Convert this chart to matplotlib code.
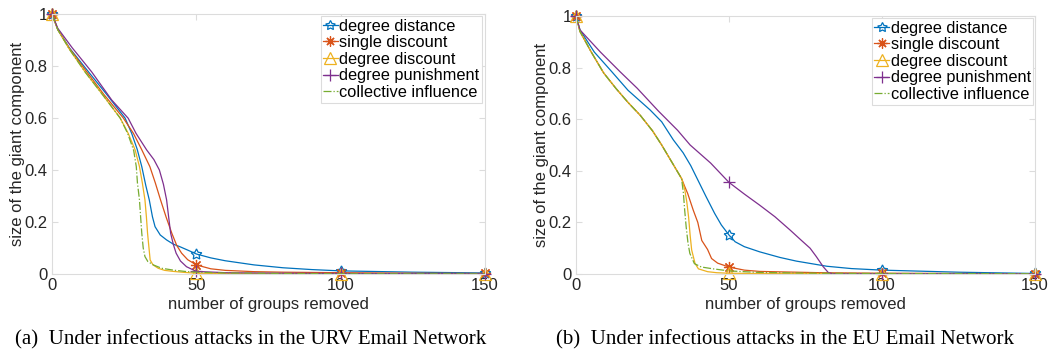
import matplotlib
matplotlib.use("Agg")
import matplotlib.pyplot as plt

plt.rcParams['font.family'] = ['Liberation Sans', 'DejaVu Sans']

# ---- URV Email Network ----
urv_dd_x = [0, 2, 6, 12.6, 19, 25.3, 27.6, 29.5, 31.1, 32.5, 33.7, 34.8, 35.7, 37.5, 39.7, 42, 44.3, 47, 50, 55, 60, 70, 80, 90, 100, 125, 150]
urv_dd_y = [1, 0.94, 0.87, 0.778, 0.69, 0.6, 0.541, 0.48, 0.413, 0.34, 0.285, 0.22, 0.182, 0.15, 0.131, 0.115, 0.105, 0.092, 0.077, 0.062, 0.051, 0.035, 0.024, 0.017, 0.012, 0.007, 0.004]

urv_sd_x = [0, 2, 6, 12, 18, 24.7, 28.2, 31, 33.9, 35.8, 37.6, 39.5, 41.5, 43.2, 44.9, 47, 50, 55, 60, 70, 80, 100, 125, 150]
urv_sd_y = [1, 0.94, 0.868, 0.778, 0.69, 0.6, 0.541, 0.48, 0.413, 0.35, 0.285, 0.22, 0.157, 0.11, 0.08, 0.055, 0.035, 0.02, 0.014, 0.009, 0.007, 0.005, 0.003, 0.002]

urv_ddc_x = [0, 2, 6, 11.4, 17.5, 23.6, 26.4, 28.8, 30.3, 31.3, 32.2, 32.7, 33.1, 33.6, 34, 35, 36.8, 39, 42, 46, 50, 60, 80, 100, 125, 150]
urv_ddc_y = [1, 0.94, 0.865, 0.778, 0.69, 0.6, 0.541, 0.477, 0.413, 0.35, 0.285, 0.22, 0.157, 0.1, 0.054, 0.035, 0.022, 0.014, 0.01, 0.006, 0.003, 0.002, 0.001, 0.001, 0.0005, 0.0003]

urv_dp_x = [0, 2, 7, 13.7, 20.7, 26.4, 29.1, 32.8, 35.3, 37.2, 38.6, 39.7, 40.4, 41.1, 42, 43, 44.5, 46.6, 50, 60, 80, 100, 125, 150]
urv_dp_y = [1, 0.945, 0.87, 0.778, 0.669, 0.599, 0.541, 0.477, 0.44, 0.4, 0.345, 0.285, 0.22, 0.157, 0.115, 0.08, 0.05, 0.028, 0.01, 0.005, 0.003, 0.002, 0.0015, 0.001]

urv_ci_x = [0, 2, 6, 11.4, 17.5, 23.6, 26.2, 28.3, 29.2, 29.6, 30.3, 30.7, 31.1, 31.6, 32.2, 33.2, 35.1, 38, 42, 46, 50, 60, 80, 100, 125, 150]
urv_ci_y = [1, 0.94, 0.865, 0.778, 0.69, 0.6, 0.541, 0.475, 0.413, 0.35, 0.285, 0.22, 0.157, 0.1, 0.067, 0.048, 0.035, 0.022, 0.015, 0.01, 0.007, 0.004, 0.002, 0.001, 0.0007, 0.0005]

# ---- EU Email Network ----
eu_dd_x = [0, 1.3, 6, 11.7, 17, 24.2, 28, 31.8, 35, 37.5, 40, 42.5, 45.3, 47.5, 50, 52, 55, 60, 66.7, 72, 82, 90, 100, 125, 150]
eu_dd_y = [1, 0.946, 0.86, 0.784, 0.712, 0.636, 0.59, 0.52, 0.47, 0.42, 0.36, 0.3, 0.235, 0.19, 0.151, 0.125, 0.106, 0.086, 0.064, 0.05, 0.03, 0.021, 0.015, 0.007, 0.002]

eu_sd_x = [0, 1.3, 5, 9, 13, 17, 21, 25, 28, 31, 33, 34.5, 35.5, 36.5, 38.3, 39.8, 41.1, 43, 44.3, 46.3, 50, 55, 60, 80, 100, 150]
eu_sd_y = [1, 0.94, 0.86, 0.78, 0.72, 0.665, 0.615, 0.555, 0.5, 0.44, 0.4, 0.37, 0.34, 0.312, 0.248, 0.2, 0.13, 0.095, 0.06, 0.042, 0.027, 0.015, 0.01, 0.005, 0.003, 0.001]

eu_ddc_x = [0, 1.3, 5, 9, 13, 17, 21, 25, 28, 31, 33, 34.5, 35.5, 36.2, 36.8, 37.3, 37.8, 38.9, 40, 43, 46, 50, 60, 100, 150]
eu_ddc_y = [1, 0.94, 0.86, 0.78, 0.72, 0.665, 0.615, 0.555, 0.5, 0.44, 0.4, 0.37, 0.33, 0.28, 0.22, 0.15, 0.093, 0.041, 0.02, 0.009, 0.005, 0.003, 0.002, 0.001, 0.0005]

eu_dp_x = [0, 1.3, 8, 14.4, 20, 26.9, 33.2, 37.3, 44, 50, 55, 60, 65, 70, 73.5, 76.5, 78.5, 80.8, 82.5, 84, 90, 100, 125, 150]
eu_dp_y = [1, 0.946, 0.86, 0.784, 0.72, 0.632, 0.557, 0.5, 0.43, 0.355, 0.31, 0.267, 0.222, 0.17, 0.132, 0.1, 0.068, 0.028, 0.005, 0.001, 0.001, 0.001, 0.001, 0.001]

eu_ci_x = [0, 1.3, 5, 9, 13, 17, 21, 25, 28, 31, 33, 34.5, 35.1, 35.5, 36, 36.6, 37.2, 38.7, 41, 44.8, 50, 60, 80, 100, 150]
eu_ci_y = [1, 0.94, 0.86, 0.78, 0.72, 0.665, 0.615, 0.555, 0.5, 0.44, 0.4, 0.37, 0.313, 0.25, 0.183, 0.12, 0.08, 0.04, 0.027, 0.02, 0.012, 0.006, 0.003, 0.002, 0.001]

labels = ["degree distance", "single discount", "degree discount",
          "degree punishment", "collective influence"]
colors = ["#0072BD", "#D95319", "#EDB120", "#7E2F8E", "#77AC30"]
# pentagram, asterisk, triangle, plus, none
markers = [(5, 1, 0), (8, 2, 0), "^", "+", None]
marker_sizes = [8, 8, 9, 9, 0]
styles = ["-", "-", "-", "-", "-."]
marked_x = [0, 50, 100, 150]

panels = [
    dict(series=[(urv_dd_x, urv_dd_y), (urv_sd_x, urv_sd_y), (urv_ddc_x, urv_ddc_y),
                 (urv_dp_x, urv_dp_y), (urv_ci_x, urv_ci_y)],
         rect=[52 / 1058, 1 - 274 / 353, 433 / 1058, 260 / 353],
         caption="(a)  Under infectious attacks in the URV Email Network",
         cap_x=251 / 1058, legend_anchor=(0.993, 0.992)),
    dict(series=[(eu_dd_x, eu_dd_y), (eu_sd_x, eu_sd_y), (eu_ddc_x, eu_ddc_y),
                 (eu_dp_x, eu_dp_y), (eu_ci_x, eu_ci_y)],
         rect=[576 / 1058, 1 - 274 / 353, 459 / 1058, 258 / 353],
         caption="(b)  Under infectious attacks in the EU Email Network",
         cap_x=785 / 1058, legend_anchor=(0.996, 0.992)),
]

fig = plt.figure(figsize=(10.58, 3.53), dpi=100)
text_col = "#262626"
frame_col = "#dcdcdc"

for p in panels:
    ax = fig.add_axes(p["rect"])
    for i, (xs, ys) in enumerate(p["series"]):
        idx = [xs.index(v) for v in marked_x]
        kw = dict(color=colors[i], lw=0.9, ls=styles[i], label=labels[i])
        if markers[i] is not None:
            kw.update(marker=markers[i], markevery=idx, markersize=marker_sizes[i],
                      markerfacecolor="none", markeredgecolor=colors[i],
                      markeredgewidth=0.9)
        line, = ax.plot(xs, ys, **kw)
        line.set_clip_on(False)
    ax.set_xlim(0, 150)
    ax.set_ylim(0, 1)
    ax.set_xticks([0, 50, 100, 150])
    ax.set_yticks([0, 0.2, 0.4, 0.6, 0.8, 1])
    ax.set_yticklabels(["0", "0.2", "0.4", "0.6", "0.8", "1"])
    for s in ax.spines.values():
        s.set_color(frame_col)
        s.set_linewidth(0.8)
    ax.tick_params(direction="in", length=4, width=0.8, color=frame_col,
                   labelcolor=text_col, labelsize=12, top=True, right=True,
                   pad=3)
    ax.set_xlabel("number of groups removed", fontsize=12, color=text_col,
                  labelpad=3)
    ax.set_ylabel("size of the giant component", fontsize=12, color=text_col,
                  labelpad=0)
    leg = ax.legend(loc="upper right", bbox_to_anchor=p["legend_anchor"],
                    fontsize=11.8, handlelength=0.9, handletextpad=0.1,
                    borderpad=0.15, labelspacing=0.1, borderaxespad=0,
                    frameon=True, fancybox=False, framealpha=1,
                    markerscale=0.9)
    leg.get_frame().set_edgecolor(frame_col)
    leg.get_frame().set_linewidth(0.8)
    for t in leg.get_texts():
        t.set_color("black")
    fig.text(p["cap_x"], 1 - 340 / 353, p["caption"], ha="center", va="center",
             fontsize=15, family=["Liberation Serif", "DejaVu Serif"],
             color="black")

fig.savefig("out.png", dpi=100)
